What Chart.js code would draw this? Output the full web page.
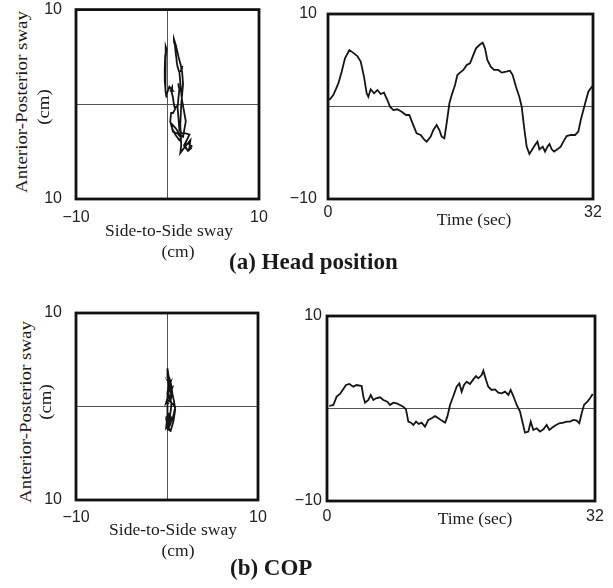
<!DOCTYPE html>
<html>
<head>
<meta charset="utf-8">
<script src="https://cdn.jsdelivr.net/npm/chart.js@4.4.1/dist/chart.umd.min.js"></script>
<style>
  body { margin: 0; background: #fff; }
  #page { position: relative; width: 613px; height: 588px; overflow: hidden; font-family: 'Liberation Serif', serif; color: #1a1a1a; }
  canvas { position: absolute; }
  .lbl { position: absolute; white-space: nowrap; font-size: 17.5px; transform: translate(-50%, -50%); }
  .vlbl { transform: translate(-50%, -50%) rotate(-90deg) scaleX(1.08); }
  .cap { position: absolute; white-space: nowrap; font-weight: bold; font-size: 23px; transform: translateY(-50%); }
</style>
</head>
<body>
<div id="page">
  <canvas id="headXY" width="235" height="230" style="left:40px;top:0px"></canvas>
  <canvas id="headTS" width="313" height="230" style="left:290px;top:0px"></canvas>
  <canvas id="copXY" width="235" height="240" style="left:40px;top:290px"></canvas>
  <canvas id="copTS" width="318" height="240" style="left:290px;top:290px"></canvas>

  <div class="lbl vlbl" style="left:21px;top:102px">Anterior-Posterior sway</div>
  <div class="lbl vlbl" style="left:43px;top:107px">(cm)</div>
  <div class="lbl" style="left:169px;top:230px">Side-to-Side sway</div>
  <div class="lbl" style="left:178px;top:251px">(cm)</div>
  <div class="lbl" style="left:474px;top:219px">Time (sec)</div>
  <div class="cap" style="left:229px;top:262px">(a) Head position</div>

  <div class="lbl vlbl" style="left:25px;top:412px">Anterior-Posterior sway</div>
  <div class="lbl vlbl" style="left:45px;top:402px">(cm)</div>
  <div class="lbl" style="left:173px;top:529px">Side-to-Side sway</div>
  <div class="lbl" style="left:178px;top:550px">(cm)</div>
  <div class="lbl" style="left:475px;top:518px">Time (sec)</div>
  <div class="cap" style="left:230px;top:568px">(b) COP</div>
</div>
<script>
// head position (time in sec, sway in cm)
const headTime = [0.16, 0.64, 1.25, 1.65, 2.05, 2.58, 3.06, 3.54, 3.95, 4.35, 4.67, 4.87, 5.15, 5.56, 5.96, 6.36, 6.76, 7.17, 7.49, 7.89,
  8.37, 8.9, 9.42, 9.82, 10.2, 10.7, 11.19, 11.6, 11.92, 12.4, 12.72, 13.12, 13.45, 13.73, 14.05, 14.33, 14.66, 14.94, 15.34, 15.62,
  15.94, 16.35, 16.75, 17.15, 17.47, 17.87, 18.28, 18.68, 18.96, 19.24, 19.65, 20.05, 20.57, 20.97, 21.5, 21.98, 22.3, 22.7, 23.1, 23.39,
  23.67, 23.99, 24.32, 24.68, 25.0, 25.29, 25.53, 25.93, 26.21, 26.5, 26.74, 27.02, 27.3, 27.7, 28.1, 28.42, 28.82, 29.31, 29.83, 30.23,
  30.52, 30.84, 31.16, 31.44, 31.72, 31.97];
const headAP = [0.7, 1.24, 2.5, 3.76, 5.2, 6.1, 5.8, 5.46, 4.85, 3.2, 1.43, 1.06, 1.86, 1.43, 1.78, 1.35, 1.5, 0.7, -0.02, -0.38,
  -0.3, -0.56, -0.92, -0.92, -1.8, -2.9, -3.08, -3.55, -3.8, -3.26, -2.54, -2.0, -2.54, -3.26, -3.44, -1.8, 0.35, 1.24, 2.32, 3.4,
  3.66, 3.95, 4.49, 4.67, 5.39, 6.29, 6.65, 6.9, 6.29, 5.03, 4.3, 3.95, 3.95, 3.66, 3.76, 3.87, 3.4, 2.14, 1.06, -0.02,
  -2.18, -4.34, -5.14, -4.63, -4.16, -3.8, -4.63, -4.34, -4.88, -4.34, -4.05, -4.63, -4.88, -4.63, -4.34, -3.8, -3.19, -3.08, -3.08, -2.72,
  -1.46, -0.38, 0.7, 1.6, 1.97, 2.22];
const headSide = [-0.1, -0.2, -0.3, -0.3, -0.25, -0.2, -0.1, -0.15, -0.2, -0.25, -0.2, -0.1, 0.2, 0.6, 0.5, 0.3, 0.4, 0.6, 0.7, 0.8,
  0.9, 0.8, 0.6, 0.4, 0.3, 0.6, 1.1, 1.5, 1.3, 0.9, 0.5, 0.4, 0.9, 1.4, 1.7, 2.0, 1.6, 1.5, 1.4, 1.3,
  1.2, 1.1, 1.0, 1.0, 0.9, 0.8, 0.7, 0.7, 0.9, 1.2, 1.4, 1.5, 1.6, 1.5, 1.6, 1.5, 1.6, 1.7, 1.6, 1.5,
  1.4, 1.5, 1.4, 1.8, 2.2, 2.5, 2.4, 2.7, 2.2, 1.9, 2.3, 2.6, 2.3, 2.0, 1.8, 2.1, 2.4, 2.0, 1.6, 1.3,
  1.2, 1.1, 1.2, 1.3, 1.2, 1.2];

// centre of pressure
const copTime = [0.28, 0.76, 1.15, 1.55, 1.87, 2.27, 2.67, 3.14, 3.54, 4.14, 4.34, 4.54, 4.94, 5.22, 5.53, 5.85, 6.33, 6.73, 7.2, 7.52,
  7.92, 8.32, 8.72, 9.11, 9.43, 9.71, 10.03, 10.31, 10.63, 10.95, 11.3, 11.7, 12.1, 12.5, 12.9, 13.3, 13.7, 14.1, 14.37, 14.69,
  15.09, 15.48, 15.8, 16.08, 16.36, 16.68, 17.07, 17.47, 17.79, 18.07, 18.47, 18.67, 18.99, 19.26, 19.66, 20.06, 20.46, 20.86, 21.26, 21.66,
  21.93, 22.25, 22.65, 23.05, 23.37, 23.64, 24.04, 24.32, 24.64, 25.04, 25.43, 25.83, 26.23, 26.55, 26.95, 27.35, 27.74, 28.22, 28.62, 29.02,
  29.42, 29.82, 30.13, 30.41, 30.69, 31.09, 31.41, 31.73];
const copAP = [0.27, 0.38, 1.28, 1.57, 2.0, 2.54, 2.65, 2.36, 2.54, 2.43, 1.28, 0.63, 0.92, 1.46, 0.92, 1.1, 1.21, 0.92, 0.74, 0.38,
  0.63, 0.56, 0.38, 0.2, -0.09, -1.42, -1.53, -1.78, -1.42, -1.68, -1.53, -1.96, -1.24, -1.06, -0.81, -1.06, -1.31, -1.53, -0.88, 0.38,
  1.35, 2.36, 2.72, 1.82, 2.54, 2.9, 2.65, 3.15, 3.51, 3.26, 3.62, 4.09, 3.08, 2.36, 2.0, 2.07, 1.71, 1.64, 1.82, 1.46,
  2.0, 1.35, 0.38, -0.34, -1.6, -2.61, -2.5, -1.42, -2.32, -2.14, -2.5, -2.25, -1.78, -2.32, -2.03, -1.78, -1.6, -1.53, -1.42, -1.42,
  -1.24, -1.31, -1.6, -0.52, 0.38, 0.74, 1.1, 1.57];
const copSide = [0.2, 0.1, 0.0, 0.1, 0.2, 0.3, 0.4, 0.3, 0.2, 0.3, 0.5, 0.4, 0.2, 0.1, 0.3, 0.5, 0.4, 0.2, 0.0, -0.1,
  0.1, 0.3, 0.5, 0.7, 0.9, 0.6, 0.3, 0.1, 0.2, 0.4, 0.5, 0.3, 0.1, 0.0, 0.2, 0.4, 0.5, 0.3, 0.1, 0.0,
  0.1, 0.2, 0.1, 0.3, 0.4, 0.3, 0.2, 0.1, 0.0, 0.1, 0.0, 0.1, 0.2, 0.3, 0.5, 0.6, 0.5, 0.3, 0.2, 0.4,
  0.5, 0.6, 0.8, 0.9, 0.7, 0.4, 0.2, 0.0, -0.1, 0.1, 0.3, 0.2, 0.0, 0.1, 0.3, 0.4, 0.2, 0.1, 0.3, 0.4,
  0.2, 0.1, 0.2, 0.4, 0.5, 0.3, 0.2, 0.1];

// axis ticks and their printed labels (the figure prints "10" at both ends of the AP axis)
const sideTicks = [-10, 0, 10];
const sideTickLabels = ['\u221210', '', '10'];
const apTicks = [-10, 0, 10];
const apTickLabels = ['10', '', '10'];
const timeTicks = [0, 32];
const timeTickLabels = ['0', '32'];
const swayTicks = [-10, 0, 10];
const swayTickLabels = ['\u221210', '', '10'];

const tickFont = { family: 'Liberation Sans', size: 16 };

// thick black box round the plot area
const framePlugin = {
  id: 'frame',
  afterDraw(chart) {
    const { ctx, chartArea: a } = chart;
    ctx.save();
    ctx.strokeStyle = '#111';
    ctx.lineWidth = 2.8;
    ctx.strokeRect(a.left, a.top, a.right - a.left, a.bottom - a.top);
    ctx.restore();
  }
};

// gap between frame and labels is done with an invisible tick mark,
// ticks.padding would also push the plot area down
function makeAxis(cfg) {
  return {
    type: 'linear',
    min: cfg.ticks[0],
    max: cfg.ticks[cfg.ticks.length - 1],
    border: { display: false },
    grid: {
      drawTicks: true,
      tickLength: cfg.gap,
      tickColor: 'rgba(0,0,0,0)',
      lineWidth: 1,
      color: ctx => (cfg.zeroLine && ctx.tick && ctx.tick.value === 0) ? '#555' : 'rgba(0,0,0,0)'
    },
    afterBuildTicks: scale => { scale.ticks = cfg.ticks.map(v => ({ value: v })); },
    afterFit: scale => {
      if (cfg.width) scale.width = cfg.width;
      if (cfg.height) scale.height = cfg.height;
    },
    ticks: {
      autoSkip: false,
      maxRotation: 0,
      padding: 0,
      color: '#222',
      font: tickFont,
      callback: (value, index) => cfg.labels[index]
    }
  };
}

function drawPanel(id, xs, ys, opt) {
  const ctx = document.getElementById(id).getContext('2d');
  const points = xs.map((x, i) => ({ x: x, y: ys[i] }));

  new Chart(ctx, {
    type: 'scatter',
    data: {
      datasets: [{
        data: points,
        showLine: true,
        borderColor: '#141414',
        borderWidth: 1.8,
        pointRadius: 0,
        tension: 0
      }]
    },
    options: {
      responsive: false,
      animation: false,
      devicePixelRatio: 1,
      layout: { padding: opt.pad },
      plugins: {
        legend: { display: false },
        tooltip: { enabled: false }
      },
      scales: {
        x: makeAxis(opt.x),
        y: makeAxis(opt.y)
      }
    },
    plugins: [framePlugin]
  });
}

drawPanel('headXY', headSide, headAP, {
  pad: { top: 9, right: 16, bottom: 0, left: 0 },
  x: { ticks: sideTicks, labels: sideTickLabels, zeroLine: true, height: 31, gap: 9 },
  y: { ticks: apTicks, labels: apTickLabels, zeroLine: true, width: 36, gap: 14 }
});

drawPanel('headTS', headTime, headAP, {
  pad: { top: 14, right: 10, bottom: 0, left: 0 },
  x: { ticks: timeTicks, labels: timeTickLabels, zeroLine: false, height: 31, gap: 4 },
  y: { ticks: swayTicks, labels: swayTickLabels, zeroLine: true, width: 38, gap: 11 }
});

drawPanel('copXY', copSide, copAP, {
  pad: { top: 23, right: 17, bottom: 0, left: 0 },
  x: { ticks: sideTicks, labels: sideTickLabels, zeroLine: true, height: 30, gap: 8 },
  y: { ticks: apTicks, labels: apTickLabels, zeroLine: true, width: 36, gap: 14 }
});

drawPanel('copTS', copTime, copAP, {
  pad: { top: 26, right: 13, bottom: 0, left: 0 },
  x: { ticks: timeTicks, labels: timeTickLabels, zeroLine: false, height: 29, gap: 6 },
  y: { ticks: swayTicks, labels: swayTickLabels, zeroLine: true, width: 37, gap: 5 }
});
</script>
</body>
</html>
